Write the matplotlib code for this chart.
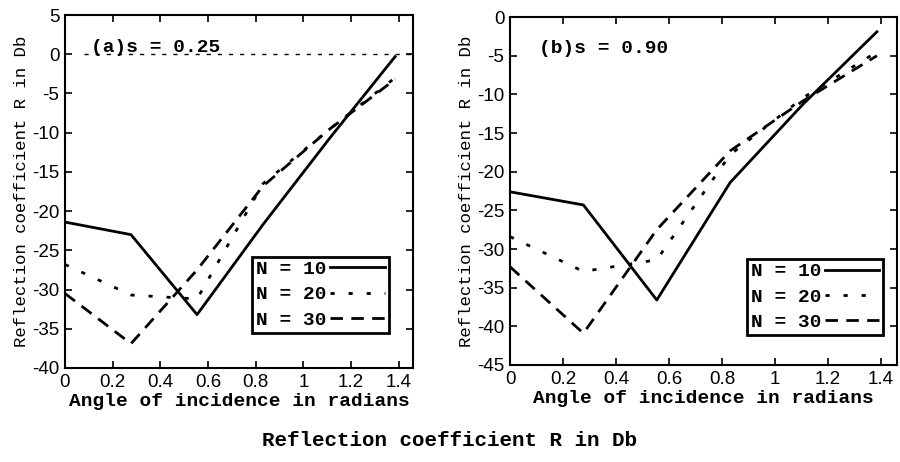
import numpy as np
import matplotlib
matplotlib.use("Agg")
import matplotlib.pyplot as plt

# angle of incidence (radians)
angles = [0.0, 0.277, 0.554, 0.831, 1.108, 1.385]

# (a) s = 0.25
a_n10 = [-21.4, -23.0, -33.2, -21.7, -10.8, -0.3]
a_n20 = [-26.8, -30.7, -31.2, -16.5, -9.6, -3.0]
a_n30 = [-30.5, -36.9, -27.5, -16.8, -9.6, -3.2]

# (b) s = 0.90
b_n10 = [-22.6, -24.3, -36.6, -21.4, -11.2, -1.9]
b_n20 = [-28.4, -32.9, -31.4, -17.8, -10.4, -4.5]
b_n30 = [-32.3, -40.9, -27.5, -17.3, -10.8, -5.0]

labels = ["N = 10", "N = 20", "N = 30"]
xticks = [0, 0.2, 0.4, 0.6, 0.8, 1, 1.2, 1.4]
xtick_labels = ["0", "0.2", "0.4", "0.6", "0.8", "1", "1.2", "1.4"]

MONO = "Liberation Mono"
SANS = "Liberation Sans"

fig = plt.figure(figsize=(9, 4.62), dpi=100)
ax1 = fig.add_axes([0.0722, 0.2035, 0.3867, 0.764])
ax2 = fig.add_axes([0.5667, 0.21, 0.4297, 0.753])

styles = [
    dict(color="black", lw=2.0, ls="-"),
    dict(color="black", lw=2.0, ls=(0, (1.5, 5.0))),
    dict(color="black", lw=2.0, ls=(0, (4.5, 3.0))),
]


def draw(ax, series, ylim, yticks, note, legend_anchor):
    for ys, lab, st in zip(series, labels, styles):
        ax.plot(angles, ys, label=lab, **st)
    ax.set_xlim(0, 1.46)
    ax.set_ylim(*ylim)
    ax.set_xticks(xticks)
    ax.set_xticklabels(xtick_labels, fontfamily=SANS, fontsize=13.5)
    ax.set_yticks(yticks)
    ax.set_yticklabels([str(t) for t in yticks], fontfamily=SANS, fontsize=13.5)
    ax.tick_params(direction="in", top=True, right=True, length=5, width=1.2, pad=4)
    for sp in ax.spines.values():
        sp.set_linewidth(1.5)
    ax.set_xlabel("Angle of incidence in radians", fontfamily=MONO,
                  fontweight="bold", fontsize=14, labelpad=2)
    ax.set_ylabel("Reflection coefficient R in Db", fontfamily=MONO,
                  fontsize=12.5, labelpad=2)
    ax.text(0.11, ylim[1] - 4.7, note, fontfamily=MONO, fontweight="bold",
            fontsize=14, va="baseline")
    leg = ax.legend(loc="lower right", bbox_to_anchor=legend_anchor,
                    markerfirst=False, prop=dict(family=MONO, weight="bold", size=14),
                    handlelength=2.8, handletextpad=0.2, labelspacing=0.4,
                    borderpad=0.2, borderaxespad=0, fancybox=False, framealpha=1)
    leg.get_frame().set_edgecolor("black")
    leg.get_frame().set_linewidth(2.0)


draw(ax1, [a_n10, a_n20, a_n30], (-40, 5), list(range(-40, 6, 5)),
     "(a)s = 0.25", (0.93, 0.1))
ax1.axhline(0, xmin=0.055, color="black", lw=1.0, ls=(0, (3, 5)))

draw(ax2, [b_n10, b_n20, b_n30], (-45, 0), list(range(-45, 1, 5)),
     "(b)s = 0.90", (0.965, 0.086))

fig.text(0.5, 0.035, "Reflection coefficient R in Db", ha="center",
         fontfamily=MONO, fontweight="bold", fontsize=15)

fig.savefig("out.png", dpi=100)
